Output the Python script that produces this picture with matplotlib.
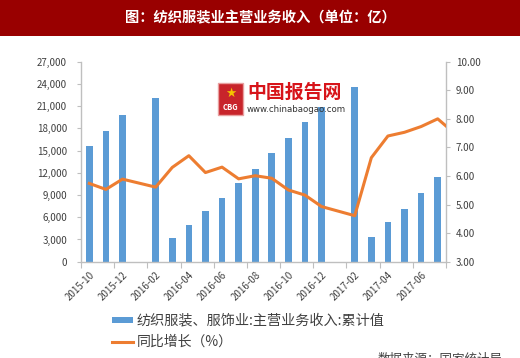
import numpy as np
import matplotlib
matplotlib.use('Agg')
import matplotlib.pyplot as plt
from matplotlib.patches import Rectangle
from matplotlib.ticker import FuncFormatter, FixedLocator

plt.rcParams['font.family'] = ['Noto Sans CJK SC', 'DejaVu Sans']

# 数据
months = ['2015-10', '2015-11', '2015-12', '2016-01', '2016-02', '2016-03',
          '2016-04', '2016-05', '2016-06', '2016-07', '2016-08', '2016-09',
          '2016-10', '2016-11', '2016-12', '2017-01', '2017-02', '2017-03',
          '2017-04', '2017-05', '2017-06', '2017-07', '2017-08']
revenue = [15600, 17650, 19850, np.nan, 22150, 3150, 4900, 6800, 8550, 10600,
           12550, 14650, 16700, 18850, 20900, np.nan, 23600, 3300, 5300, 7150,
           9250, 11500, np.nan]
growth = [5.74, 5.53, 5.89, np.nan, 5.61, 6.30, 6.71, 6.12, 6.31, 5.90,
          6.01, 5.92, 5.51, 5.33, 4.93, np.nan, 4.61, 6.64, 7.40, 7.53,
          7.73, 8.00, 7.50]
bar_label = '纺织服装、服饰业:主营业务收入:累计值'
line_label = '同比增长（%）'
title = '图：纺织服装业主营业务收入（单位：亿）'

W, H = 520, 358
fig = plt.figure(figsize=(W / 100, H / 100), dpi=100)
fig.patch.set_facecolor('white')

# 标题栏
fig.patches.append(Rectangle((0, 1 - 36 / H), 1, 36 / H, transform=fig.transFigure,
                             facecolor='#990000', edgecolor='none', zorder=0))
fig.text(0.5, 1 - 18 / H, title, color='white', fontsize=10.3, fontweight='bold',
         ha='center', va='center')

ax = fig.add_axes([81 / W, 1 - 261.7 / H, 365 / W, 200 / H])
x = np.arange(len(months))
rev = np.array(revenue, dtype=float)
gr = np.array(growth, dtype=float)

bar_color = '#5B9BD5'
line_color = '#ED7D31'
axis_color = '#BFBFBF'
text_color = '#404040'

ax.bar(x, rev, width=0.4, color=bar_color, zorder=2)
ax.set_xlim(-0.5, 21.5)
ax.set_ylim(0, 27000)
ax.set_yticks(np.arange(0, 27001, 3000))
ax.yaxis.set_major_formatter(FuncFormatter(lambda v, p: f'{int(v):,}'))

ax2 = ax.twinx()
m = ~np.isnan(gr)
ax2.plot(x[m], gr[m], color=line_color, lw=2.2, zorder=3, solid_joinstyle='round')
ax2.set_ylim(3, 10)
ax2.set_yticks(np.arange(3, 10.01, 1))
ax2.yaxis.set_major_formatter(FuncFormatter(lambda v, p: f'{v:.2f}'))

for a in (ax, ax2):
    a.spines['top'].set_visible(False)
    for s in ('left', 'right', 'bottom'):
        a.spines[s].set_color(axis_color)
        a.spines[s].set_linewidth(1)
    a.tick_params(colors=axis_color, labelcolor=text_color, labelsize=7, length=3)
ax.spines['right'].set_visible(False)
ax2.spines['left'].set_visible(False)
ax2.spines['bottom'].set_visible(False)
ax.tick_params(axis='y', pad=7)
ax2.tick_params(axis='y', pad=4)

# x轴：每两个月一个刻度
ax.xaxis.set_major_locator(FixedLocator(np.arange(-0.5, 21.6, 2)))
ax.xaxis.set_major_formatter(FuncFormatter(lambda v, p: ''))
ax.set_xticks(x[0:21:2], minor=True)
ax.set_xticklabels(months[0:21:2], minor=True, rotation=45, ha='right',
                   rotation_mode='anchor', fontsize=7, color=text_color)
ax.tick_params(axis='x', which='minor', length=0, pad=6)
ax.tick_params(axis='x', which='major', length=4)

# 水印
fig.patches.append(Rectangle((218 / W, 1 - 115 / H), 25 / W, 32 / H, transform=fig.transFigure,
                             facecolor='#C8242B', edgecolor='#E8A0A0', lw=1, zorder=5))
fig.text(230.5 / W, 1 - 108 / H, 'CBG', color='white', fontsize=5.5, fontweight='bold',
         ha='center', va='center', zorder=6)
fig.text(230.5 / W, 1 - 93 / H, '★', color='#F5C400', fontsize=9,
         ha='center', va='center', zorder=6, family='DejaVu Sans')
fig.text(247 / W, 1 - 92 / H, '中国报告网', color='#D7141A', fontsize=13.6, fontweight='bold',
         ha='left', va='center', zorder=6)
fig.text(247 / W, 1 - 109 / H, 'www.chinabaogao.com', color='#333333', fontsize=6.2,
         ha='left', va='center', zorder=6, family='DejaVu Sans')

# 图例
fig.patches.append(Rectangle((112 / W, 1 - 323 / H), 21 / W, 6 / H, transform=fig.transFigure,
                             facecolor=bar_color, edgecolor='none'))
fig.text(137 / W, 1 - 320 / H, bar_label, color=text_color, fontsize=10.2,
         ha='left', va='center')
fig.lines.append(plt.Line2D([112 / W, 133 / W], [1 - 342 / H, 1 - 342 / H],
                            transform=fig.transFigure, color=line_color, lw=2.2))
fig.text(137 / W, 1 - 342 / H, line_label, color=text_color, fontsize=10,
         ha='left', va='center')

# 数据来源（参考图中底边被裁切）
fig.text(378 / W, 1 - 353 / H, '数据来源：国家统计局', color=text_color, fontsize=9,
         ha='left', va='top')

fig.savefig('out.png', dpi=100)
